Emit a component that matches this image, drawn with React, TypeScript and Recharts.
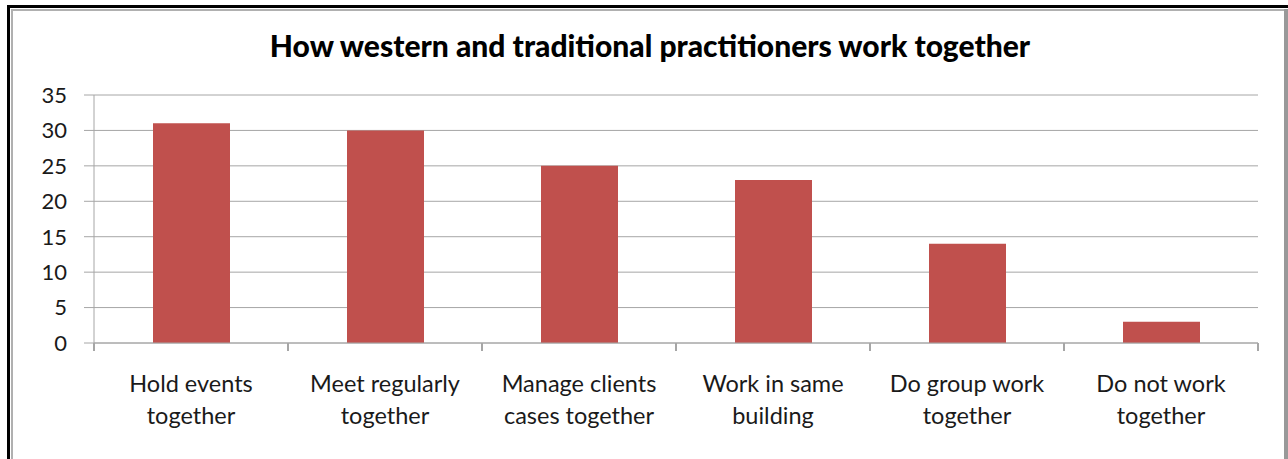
import React from 'react';
import { BarChart, Bar, XAxis, YAxis, CartesianGrid } from 'recharts';

const CATEGORIES = [
    'Hold events together',
    'Meet regularly together',
    'Manage clients cases together',
    'Work in same building',
    'Do group work together',
    'Do not work together',
];
const LABEL_LINES: string[][] = [
    ['Hold events', 'together'],
    ['Meet regularly', 'together'],
    ['Manage clients', 'cases together'],
    ['Work in same', 'building'],
    ['Do group work', 'together'],
    ['Do not work', 'together'],
];
const VALUES = [31, 30, 25, 23, 14, 3];
const Y_TICKS = [0, 5, 10, 15, 20, 25, 30, 35];

const TITLE = 'How western and traditional practitioners work together';
const FONT = 'Lato, "Open Sans", sans-serif';

const data = CATEGORIES.map((name, i) => ({ name, value: VALUES[i] }));

const CategoryTick = (props: any) => {
    const { x, y, index } = props;
    const lines = LABEL_LINES[index] || [];
    return (
        <g transform={`translate(${x},${y})`}>
            {lines.map((line, i) => (
                <text key={i} x={0} y={i * 32} dy={39} textAnchor="middle" fill="#1a1a1a" fontSize={23.5} fontFamily={FONT}>
                    {line}
                </text>
            ))}
        </g>
    );
};

export default function App() {
    return (
        <div style={{ position: 'absolute', left: 0, top: 0, width: 1288, height: 459, background: 'white', overflow: 'hidden' }}>
            {/* frame */}
            <div style={{ position: 'absolute', left: 7, top: 5, width: 1281, height: 3, background: '#000' }} />
            <div style={{ position: 'absolute', left: 7, top: 5, width: 3, height: 454, background: '#000' }} />
            <div style={{ position: 'absolute', left: 11, top: 9, width: 1273, height: 2, background: '#b0b0b0' }} />
            <div style={{ position: 'absolute', left: 11, top: 9, width: 2, height: 450, background: '#b0b0b0' }} />
            <div style={{ position: 'absolute', left: 1284, top: 9, width: 4, height: 450, background: '#999' }} />

            <div style={{ position: 'absolute', left: 0, top: 27, width: 1300, textAlign: 'center', fontFamily: FONT, fontWeight: 900, fontSize: 30, lineHeight: '36px', color: '#000' }}>
                {TITLE}
            </div>

            <div style={{ position: 'absolute', left: 0, top: 0 }}>
                <BarChart width={1288} height={459} data={data} margin={{ top: 95, right: 30, left: 0, bottom: 0 }} barSize={77}>
                    <CartesianGrid vertical={false} stroke="#a6a6a6" strokeWidth={1} />
                    <XAxis
                        dataKey="name"
                        height={116}
                        interval={0}
                        stroke="#a6a6a6"
                        tickSize={8}
                        tickLine={false}
                        tick={<CategoryTick />}
                    />
                    <YAxis
                        domain={[0, 35]}
                        ticks={Y_TICKS}
                        width={94}
                        stroke="#a6a6a6"
                        tickSize={10}
                        tickMargin={17}
                        interval={0}
                        tick={{ fill: '#1a1a1a', fontSize: 22, fontFamily: FONT }}
                    />
                    <Bar dataKey="value" fill="#c0504d" isAnimationActive={false} />
                </BarChart>
            </div>
            {/* category separator ticks on the x axis */}
            {[0, 1, 2, 3, 4, 5, 6].map((i) => (
                <div key={i} style={{ position: 'absolute', left: 94 + i * 194 - 1, top: 343, width: 2, height: 8, background: '#a6a6a6' }} />
            ))}
        </div>
    );
}
